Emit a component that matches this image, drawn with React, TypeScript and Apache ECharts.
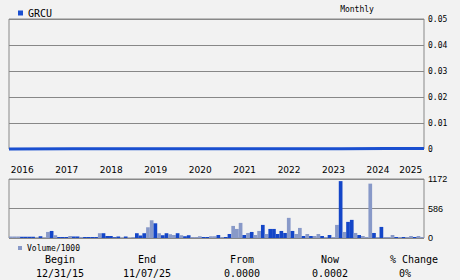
import React, { useEffect, useRef } from 'react';
import * as echarts from 'echarts';

// ---- data ----
const startYear = 2016;
const monthCount = 112;
const months: string[] = [];
for (let i = 0; i < monthCount; i++) {
  const y = startYear + Math.floor(i / 12);
  const m = (i % 12) + 1;
  months.push(`${y}-${m < 10 ? '0' + m : m}`);
}

const priceDates = ['2016-01', '2017-06', '2019-01', '2020-06', '2022-01', '2023-06', '2024-06', '2025-04'];
const priceValues = [0.0, 0.0001, 0.0001, 0.0001, 0.0001, 0.0001, 0.0002, 0.0002];

// volume in thousands
const volumeValues = [
  30, 30, 30, 25, 25, 25, 25, 10, 35, 10, 120, 140,
  55, 20, 20, 20, 40, 30, 30, 20, 20, 20, 20, 20,
  95, 95, 40, 40, 15, 30, 10, 30, 5, 20, 95, 50,
  95, 213, 352, 292, 95, 55, 95, 75, 60, 95, 55, 35,
  55, 20, 20, 35, 20, 20, 35, 35, 60, 20, 20, 80,
  240, 180, 300, 60, 100, 120, 60, 140, 260, 80, 180, 180,
  80, 140, 100, 400, 140, 80, 200, 40, 80, 40, 40, 80,
  40, 20, 60, 20, 260, 1130, 120, 320, 360, 100, 60, 40,
  20, 1080, 100, 20, 220, 20, 20, 60, 20, 20, 20, 20,
  40, 20, 40, 20,
];
// 1 = dark bar, 0 = light bar
const volumeDark = [
  0, 0, 0, 1, 1, 1, 1, 0, 1, 0, 0, 1,
  0, 1, 1, 1, 0, 1, 1, 0, 1, 1, 1, 1,
  0, 1, 1, 1, 1, 1, 0, 1, 0, 0, 1, 1,
  1, 0, 0, 1, 0, 1, 1, 0, 0, 1, 0, 1,
  1, 0, 0, 0, 1, 1, 0, 0, 1, 0, 1, 1,
  0, 0, 0, 1, 0, 1, 0, 0, 1, 0, 1, 1,
  1, 1, 1, 0, 1, 0, 0, 1, 0, 1, 0, 0,
  1, 0, 1, 0, 0, 1, 0, 1, 1, 0, 1, 0,
  0, 0, 1, 0, 1, 0, 0, 0, 1, 0, 1, 0,
  0, 1, 0, 0,
];

const volumeMax = 1172;
const volumeInterval = 586;
const priceMax = 0.05;
const priceInterval = 0.01;

const summaryLabels = ['Begin', 'End', 'From', 'Now', '% Change'];
const summaryValues = ['12/31/15', '11/07/25', '0.0000', '0.0002', '0%'];

// ---- styles ----
const MONO = 'DejaVu Sans Mono';
const DARK = '#1446c8';
const LIGHT = '#8899c8';
const LINE = '#1a4fd0';
const GRID = '#888888';

export default function App() {
  const ref = useRef<HTMLDivElement>(null);

  useEffect(() => {
    if (!ref.current) return;
    const chart = echarts.init(ref.current, undefined, { renderer: 'svg' });

    const summaryX = [60, 147, 242, 330, 414];
    const summaryX2 = [60, 147, 242, 330, 405];
    const graphics: any[] = [
      {
        type: 'text',
        x: 357,
        y: 9,
        style: { text: 'Monthly', fontFamily: MONO, fontSize: 8, fill: '#000', align: 'center', verticalAlign: 'middle' },
      },
    ];
    summaryLabels.forEach((t, i) => {
      graphics.push({
        type: 'text',
        x: summaryX[i],
        y: 259,
        style: { text: t, fontFamily: MONO, fontSize: 10, fill: '#000', align: 'center', verticalAlign: 'middle' },
      });
      graphics.push({
        type: 'text',
        x: summaryX2[i],
        y: 273,
        style: { text: summaryValues[i], fontFamily: MONO, fontSize: 10, fill: '#000', align: 'center', verticalAlign: 'middle' },
      });
    });

    const option: any = {
      animation: false,
      backgroundColor: '#f2f2f2',
      legend: [
        {
          data: ['GRCU'],
          left: 13,
          top: 3,
          icon: 'rect',
          itemWidth: 5,
          itemHeight: 5,
          selectedMode: false,
          textStyle: { fontFamily: MONO, fontSize: 10, color: '#000' },
        },
        {
          data: ['Volume/1000'],
          left: 13,
          top: 239,
          icon: 'rect',
          itemWidth: 4,
          itemHeight: 4,
          selectedMode: false,
          textStyle: { fontFamily: MONO, fontSize: 8, color: '#000' },
        },
      ],
      grid: [
        { left: 9, right: 36, top: 19, height: 130, show: true, borderColor: GRID, borderWidth: 1, backgroundColor: 'transparent' },
        { left: 9, right: 36, top: 179, height: 59, show: true, borderColor: GRID, borderWidth: 1, backgroundColor: 'transparent' },
      ],
      xAxis: [
        {
          // year labels
          type: 'category',
          gridIndex: 0,
          data: months,
          boundaryGap: true,
          axisLine: { show: false },
          axisTick: { show: false },
          splitLine: { show: false },
          axisLabel: {
            interval: (i: number) => (i % 12 === 0 && i < 108) || i === monthCount - 1,
            formatter: (v: string) => v.slice(0, 4),
            align: 'left',
            alignMaxLabel: 'right',
            margin: 16,
            fontFamily: 'DejaVu Sans',
            fontSize: 9,
            color: '#000',
          },
        },
        {
          type: 'category',
          gridIndex: 1,
          data: months,
          boundaryGap: true,
          axisLine: { show: false },
          axisTick: { show: false },
          axisLabel: { show: false },
          splitLine: { show: false },
        },
        {
          // price line axis spanning full width
          type: 'category',
          gridIndex: 0,
          data: months,
          boundaryGap: false,
          show: false,
        },
      ],
      yAxis: [
        {
          type: 'value',
          gridIndex: 0,
          position: 'right',
          min: 0,
          max: priceMax,
          interval: priceInterval,
          axisLine: { show: false },
          axisTick: { show: false },
          splitLine: { show: true, lineStyle: { color: GRID, width: 1 } },
          axisLabel: {
            margin: 4,
            fontFamily: MONO,
            fontSize: 8,
            color: '#000',
            formatter: (v: number) => (v === 0 ? '0' : v.toFixed(2)),
          },
        },
        {
          type: 'value',
          gridIndex: 1,
          position: 'right',
          min: 0,
          max: volumeMax,
          interval: volumeInterval,
          axisLine: { show: false },
          axisTick: { show: false },
          splitLine: { show: true, lineStyle: { color: GRID, width: 1 } },
          axisLabel: {
            margin: 4,
            fontFamily: 'Liberation Sans',
            fontSize: 9,
            color: '#000',
            formatter: (v: number) => String(v),
          },
        },
      ],
      series: [
        {
          name: 'GRCU',
          type: 'line',
          xAxisIndex: 2,
          yAxisIndex: 0,
          data: priceDates.map((d, i) => [d, priceValues[i]]),
          symbol: 'none',
          clip: false,
          lineStyle: { color: LINE, width: 3 },
          itemStyle: { color: LINE },
          z: 5,
        },
        {
          name: 'Volume/1000',
          type: 'bar',
          xAxisIndex: 1,
          yAxisIndex: 1,
          barCategoryGap: '0%',
          itemStyle: { color: LIGHT },
          data: volumeValues.map((v, i) => ({ value: v, itemStyle: { color: volumeDark[i] ? DARK : LIGHT } })),
        },
      ],
      graphic: graphics,
    };

    chart.setOption(option);
    return () => chart.dispose();
  }, []);

  return (
    <div style={{ position: 'fixed', left: 0, top: 0, width: 460, height: 280, background: '#f2f2f2' }}>
      <div ref={ref} style={{ width: 460, height: 280 }} />
    </div>
  );
}
